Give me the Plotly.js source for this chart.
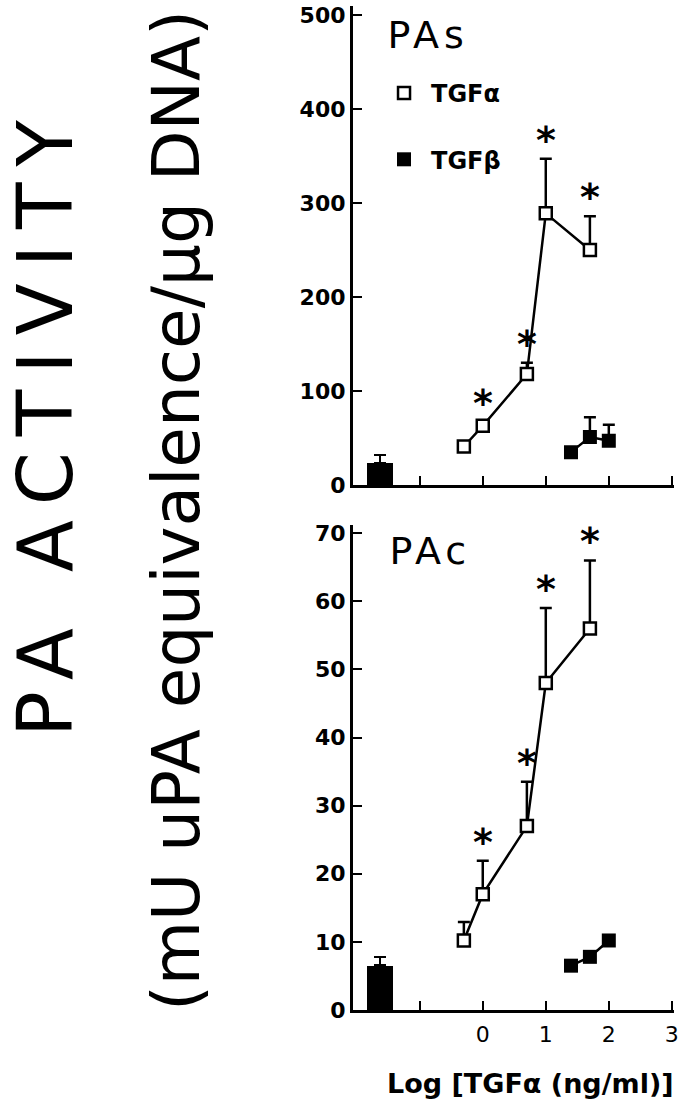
<!DOCTYPE html>
<html>
<head>
<meta charset="utf-8">
<script src="https://cdn.plot.ly/plotly-3.0.1.min.js"></script>
<style>html,body{margin:0;padding:0;background:#fff;}#chart{width:688px;height:1114px;}</style>
</head>
<body>
<div id="chart"></div>
<script>
// ---- data ----
const logConcAlpha = [-0.3, 0, 0.7, 1.0, 1.7];      // log [TGFα (ng/ml)]
const logConcBeta  = [1.4, 1.7, 2.0];               // TGFβ doses on same axis
const controlX     = [-1.63];                        // control bar position

const pasAlpha     = [41, 63, 118, 289, 250];
const pasAlphaErr  = [0, 4, 12, 58, 36];
const pasBeta      = [35, 51, 47];
const pasBetaErr   = [0, 21, 17];
const pasControl   = [23];
const pasControlErr= [9];

const pacAlpha     = [10.2, 17, 27, 48, 56];
const pacAlphaErr  = [2.7, 4.9, 6.5, 11, 10];
const pacBeta      = [6.5, 7.8, 10.2];
const pacBetaErr   = [0, 0, 0];
const pacControl   = [6.5];
const pacControlErr= [1.3];

const significant  = [false, true, true, true, true];

const pasTicks = [0, 100, 200, 300, 400, 500];
const pacTicks = [0, 10, 20, 30, 40, 50, 60, 70];
const xTicks   = [-1, 0, 1, 2, 3];
const xTickText= ['', '0', '1', '2', '3'];

// ---- styling ----
const FONT = 'DejaVu Sans, Verdana, sans-serif';
const zeros = n => new Array(n).fill(0);

function errUp(arr){
  return {type:'data', symmetric:false, array:arr, arrayminus:zeros(arr.length),
          color:'black', thickness:2.5, width:6};
}

function panelTraces(xa, ya, alpha, alphaErr, beta, betaErr, ctrl, ctrlErr){
  return [
    {type:'bar', x:controlX, y:ctrl, width:0.41, xaxis:xa, yaxis:ya,
     marker:{color:'black', line:{width:0}}, error_y:errUp(ctrlErr), showlegend:false, hoverinfo:'skip'},
    {type:'scatter', mode:'lines+markers', x:logConcBeta, y:beta, xaxis:xa, yaxis:ya,
     line:{color:'black', width:2.5}, marker:{symbol:'square', size:14, color:'black'},
     error_y:errUp(betaErr), showlegend:false},
    {type:'scatter', mode:'lines+markers', x:logConcAlpha, y:alpha, xaxis:xa, yaxis:ya,
     line:{color:'black', width:2.5},
     marker:{symbol:'square', size:12, color:'white', line:{color:'black', width:2.5}},
     error_y:errUp(alphaErr), showlegend:false}
  ];
}

const traces = [
  ...panelTraces('x','y', pasAlpha, pasAlphaErr, pasBeta, pasBetaErr, pasControl, pasControlErr),
  ...panelTraces('x2','y2', pacAlpha, pacAlphaErr, pacBeta, pacBetaErr, pacControl, pacControlErr),
  // legend entries
  {type:'scatter', mode:'markers', x:[null], y:[null], name:'TGFα', legendgroup:'a',
   marker:{symbol:'square', size:12, color:'white', line:{color:'black', width:2.5}}},
  {type:'scatter', mode:'markers', x:[null], y:[null], name:'TGFβ', legendgroup:'b',
   marker:{symbol:'square', size:14, color:'black'}}
];

function stars(xref, yref, vals, errs){
  const out = [];
  vals.forEach((v,i)=>{
    if(!significant[i]) return;
    out.push({xref:xref, yref:yref, x:logConcAlpha[i], y:v+errs[i], text:'*',
      showarrow:false, xanchor:'center', yanchor:'bottom', yshift:-5,
      font:{family:FONT, size:38, color:'black', weight:'bold'}});
  });
  return out;
}

const xDomain = [0.513, 0.9797];
const axisCommon = {showline:true, linewidth:3, linecolor:'black', ticks:'inside',
  ticklen:9, tickwidth:2, tickcolor:'black', showgrid:false, zeroline:false, fixedrange:true};

const layout = {
  width:688, height:1114, margin:{l:0, r:0, t:0, b:0},
  paper_bgcolor:'white', plot_bgcolor:'white', bargap:0,
  font:{family:FONT, color:'black'},
  showlegend:true,
  legend:{x:0.548, xanchor:'left', y:1-71/1114, yanchor:'top', tracegroupgap:32,
          font:{family:FONT, size:24, weight:'bold'}, bgcolor:'rgba(0,0,0,0)', itemwidth:44},
  xaxis:{...axisCommon, domain:xDomain, range:[-2.06, 3.035], anchor:'y',
         tickvals:xTicks, showticklabels:false},
  yaxis:{...axisCommon, domain:[0.5646, 0.995], range:[0, 510], anchor:'x',
         tickvals:pasTicks, tickfont:{family:FONT, size:22, weight:'bold'}},
  xaxis2:{...axisCommon, domain:xDomain, range:[-2.06, 3.035], anchor:'y2',
          tickvals:xTicks, ticktext:xTickText, ticklabelstandoff:3,
          tickfont:{family:FONT, size:22}},
  yaxis2:{...axisCommon, domain:[0.0934, 0.5287], range:[0, 71.2], anchor:'x2',
          tickvals:pacTicks, tickfont:{family:FONT, size:22, weight:'bold'}},
  annotations:[
    {xref:'paper', yref:'paper', x:45/688, y:1-420/1114, text:'PA ACTIVITY', textangle:-90,
     showarrow:false, xanchor:'center', yanchor:'middle', font:{family:FONT, size:76, color:'black'}},
    {xref:'paper', yref:'paper', x:176/688, y:1-511/1114, text:'(mU uPA equivalence/μg DNA)', textangle:-90,
     showarrow:false, xanchor:'center', yanchor:'middle', font:{family:FONT, size:66, color:'black'}},
    {xref:'paper', yref:'paper', x:530/688, y:1-1083/1114, text:'Log [TGFα (ng/ml)]',
     showarrow:false, xanchor:'center', yanchor:'middle', font:{family:FONT, size:27, color:'black', weight:'bold'}},
    {xref:'paper', yref:'paper', x:393/688, y:1-35/1114, text:'PAs', showarrow:false,
     xanchor:'left', yanchor:'middle', font:{family:FONT, size:38, color:'black'}},
    {xref:'paper', yref:'paper', x:395/688, y:1-551/1114, text:'PAc', showarrow:false,
     xanchor:'left', yanchor:'middle', font:{family:FONT, size:38, color:'black'}},
    ...stars('x','y', pasAlpha, pasAlphaErr),
    ...stars('x2','y2', pacAlpha, pacAlphaErr)
  ]
};

Plotly.newPlot('chart', traces, layout, {staticPlot:true, displayModeBar:false}).then(gd => {
  // widen tracking of the big rotated title and panel labels to match the original lettering
  gd.querySelectorAll('.annotation-text').forEach(t => {
    if (t.textContent === 'PA ACTIVITY') t.setAttribute('letter-spacing', '16px');
    if (t.textContent === 'PAs' || t.textContent === 'PAc') t.setAttribute('letter-spacing', '5px');
  });
});
</script>
</body>
</html>
